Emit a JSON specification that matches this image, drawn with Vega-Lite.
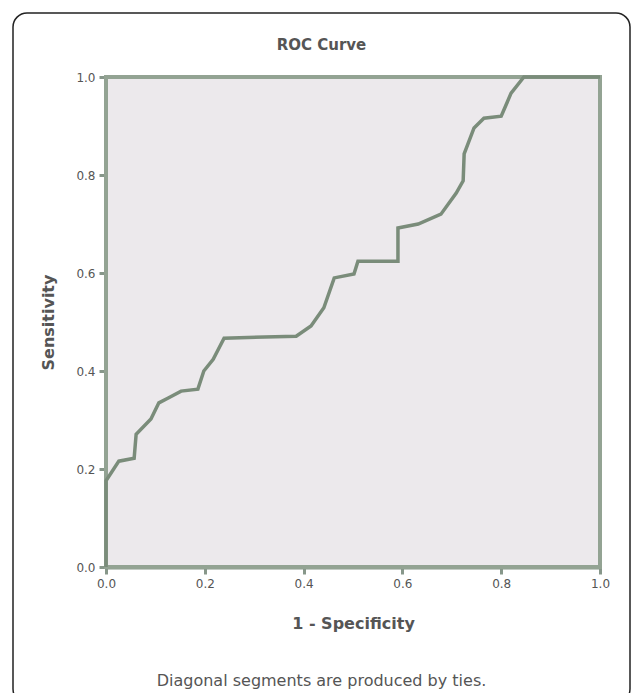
{
  "$schema": "https://vega.github.io/schema/vega-lite/v6.json",
  "autosize": {"type": "pad"},
  "padding": {"left": 12, "top": 12, "right": 0, "bottom": 0},
  "background": "white",
  "title": {"text": "Diagonal segments are produced by ties.", "orient": "bottom", "anchor": "middle", "offset": -31, "fontSize": 16, "fontWeight": "normal", "color": "#555555", "font": "DejaVu Sans"},
  "config": {
    "font": "DejaVu Sans",
    "axis": {"domainColor": "#87978a", "domainWidth": 4, "tickColor": "#87978a", "tickWidth": 3, "tickSize": 7, "labelFontSize": 12, "labelColor": "#555555", "labelPadding": 4, "labelFlush": false, "titleFontSize": 16, "titleColor": "#555555", "titleFontWeight": "bold", "grid": false, "labelFont": "DejaVu Sans", "titleFont": "DejaVu Sans"},
    "axisX": {"offset": -136, "titlePadding": 26},
    "axisY": {"offset": -93, "titlePadding": 19}
  },
  "vconcat": [
    {
      "width": 617,
      "height": 690,
      "view": {"stroke": "#222222", "strokeWidth": 1.5, "cornerRadius": 14, "fill": "white"},
      "title": {"text": "ROC Curve", "anchor": "middle", "offset": -40, "fontSize": 15, "fontWeight": "bold", "color": "#555555", "font": "DejaVu Sans"},
      "layer": [
        {
          "data": {"values": [{"region": "plot"}]},
          "mark": {"type": "rect", "fill": "#ece9ec", "stroke": "#93a393", "strokeWidth": 4},
          "encoding": {
            "x": {"datum": 0, "type": "quantitative", "scale": {"domain": [0, 1], "range": [93, 587], "nice": false, "zero": false}},
            "x2": {"datum": 1},
            "y": {"datum": 0, "type": "quantitative", "scale": {"domain": [0, 1], "range": [554, 64], "nice": false, "zero": false}},
            "y2": {"datum": 1}
          }
        },
        {
          "data": {"values": [
            {"i": 0, "fpr": 0.0, "tpr": 0.0},
            {"i": 1, "fpr": 0.0, "tpr": 0.176},
            {"i": 2, "fpr": 0.026, "tpr": 0.216},
            {"i": 3, "fpr": 0.057, "tpr": 0.222},
            {"i": 4, "fpr": 0.061, "tpr": 0.271},
            {"i": 5, "fpr": 0.091, "tpr": 0.302},
            {"i": 6, "fpr": 0.107, "tpr": 0.335},
            {"i": 7, "fpr": 0.126, "tpr": 0.345},
            {"i": 8, "fpr": 0.152, "tpr": 0.359},
            {"i": 9, "fpr": 0.186, "tpr": 0.363},
            {"i": 10, "fpr": 0.198, "tpr": 0.4},
            {"i": 11, "fpr": 0.217, "tpr": 0.424},
            {"i": 12, "fpr": 0.239, "tpr": 0.467},
            {"i": 13, "fpr": 0.385, "tpr": 0.471},
            {"i": 14, "fpr": 0.415, "tpr": 0.492},
            {"i": 15, "fpr": 0.441, "tpr": 0.529},
            {"i": 16, "fpr": 0.462, "tpr": 0.59},
            {"i": 17, "fpr": 0.502, "tpr": 0.598},
            {"i": 18, "fpr": 0.51, "tpr": 0.624},
            {"i": 19, "fpr": 0.591, "tpr": 0.624},
            {"i": 20, "fpr": 0.591, "tpr": 0.692},
            {"i": 21, "fpr": 0.632, "tpr": 0.7},
            {"i": 22, "fpr": 0.678, "tpr": 0.72},
            {"i": 23, "fpr": 0.709, "tpr": 0.763},
            {"i": 24, "fpr": 0.723, "tpr": 0.788},
            {"i": 25, "fpr": 0.725, "tpr": 0.843},
            {"i": 26, "fpr": 0.745, "tpr": 0.896},
            {"i": 27, "fpr": 0.765, "tpr": 0.916},
            {"i": 28, "fpr": 0.8, "tpr": 0.92},
            {"i": 29, "fpr": 0.82, "tpr": 0.967},
            {"i": 30, "fpr": 0.846, "tpr": 1.0},
            {"i": 31, "fpr": 1.0, "tpr": 1.0}
          ]},
          "mark": {"type": "line", "color": "#7a8c7a", "strokeWidth": 3.5},
          "encoding": {
            "x": {"field": "fpr", "type": "quantitative", "title": "1 - Specificity", "scale": {"domain": [0, 1], "range": [93, 587], "nice": false, "zero": false}, "axis": {"values": [0, 0.2, 0.4, 0.6, 0.8, 1], "format": ".1f"}},
            "y": {"field": "tpr", "type": "quantitative", "title": "Sensitivity", "scale": {"domain": [0, 1], "range": [554, 64], "nice": false, "zero": false}, "axis": {"values": [0, 0.2, 0.4, 0.6, 0.8, 1], "format": ".1f"}},
            "order": {"field": "i", "type": "quantitative"}
          }
        }
      ]
    }
  ]
}
